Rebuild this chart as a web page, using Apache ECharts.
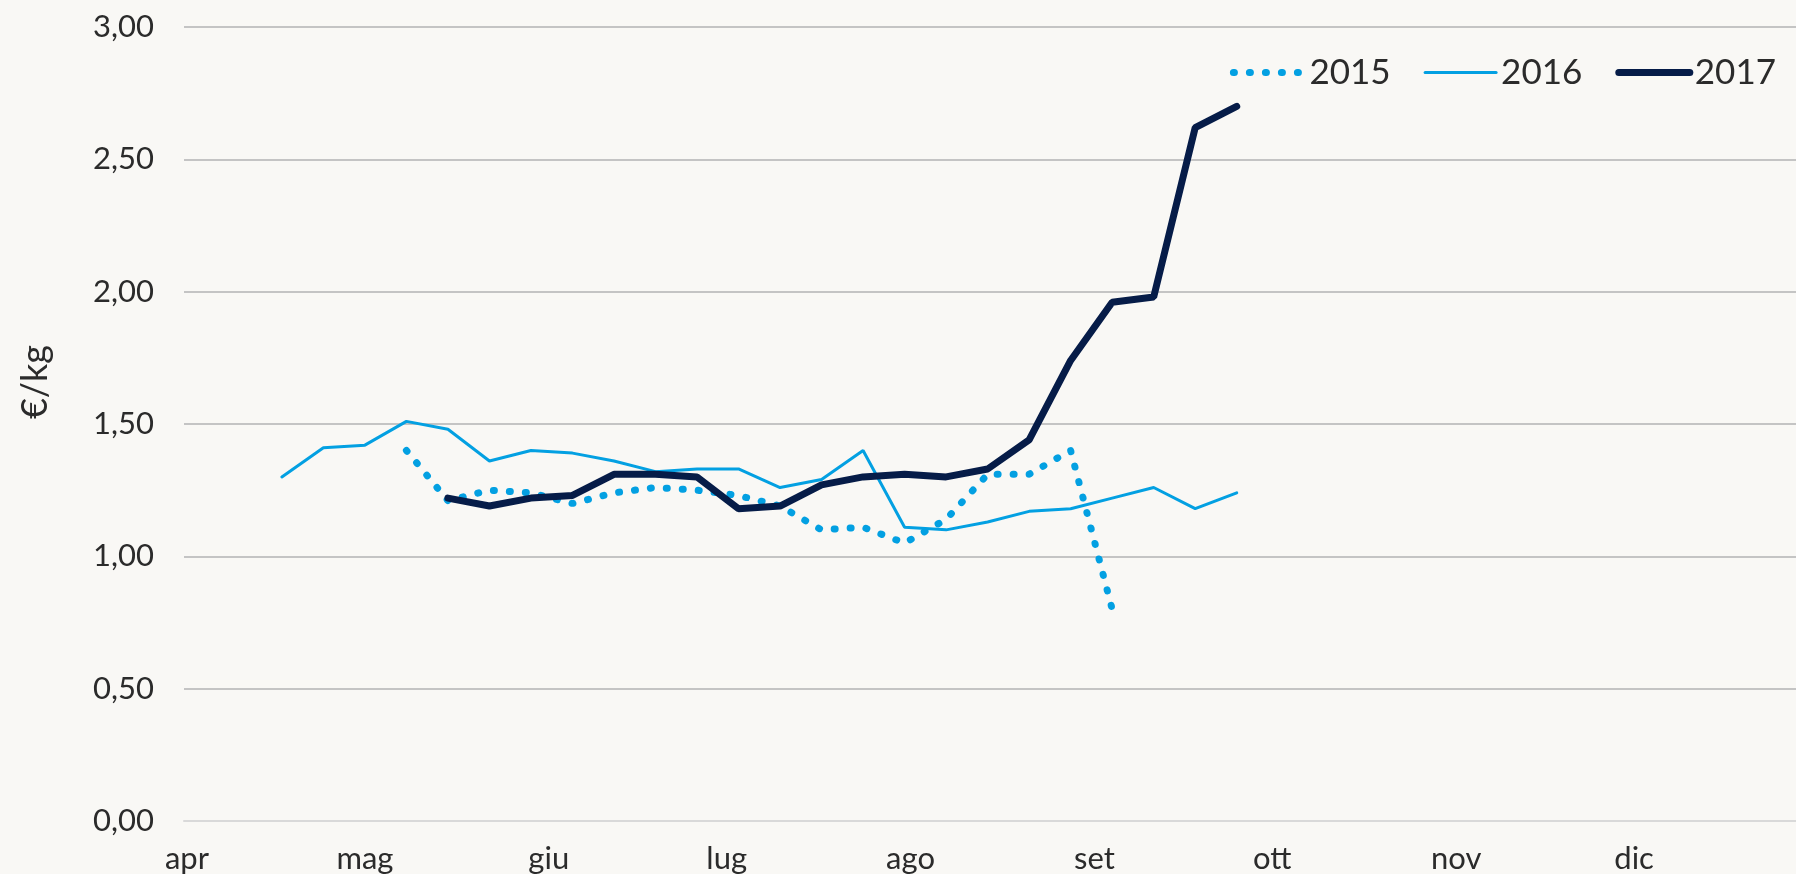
<!DOCTYPE html>
<html>
<head>
  <meta charset="utf-8">
  <title>€/kg 2015-2017</title>
  <script src="https://cdn.jsdelivr.net/npm/echarts@6/dist/echarts.min.js"></script>
  <style>
    html, body { margin: 0; padding: 0; background: #f9f8f5; }
    #main { width: 1796px; height: 874px; }
  </style>
</head>
<body>
<div id="main"></div>
<script type="text/javascript">
  // giorno dell'anno di ogni settimana rilevata
  var weekDays = [107, 114, 121, 128, 135, 142, 149, 156, 163, 170, 177, 184,
                  191, 198, 205, 212, 219, 226, 233, 240, 247, 254, 261, 268];
  var v2015 = [null, null, null, 1.40, 1.21, 1.25, 1.24, 1.20, 1.24, 1.26, 1.25, 1.23,
               1.19, 1.10, 1.11, 1.05, 1.14, 1.31, 1.31, 1.40, 0.80, null, null, null];
  var v2016 = [1.30, 1.41, 1.42, 1.51, 1.48, 1.36, 1.40, 1.39, 1.36, 1.32, 1.33, 1.33,
               1.26, 1.29, 1.40, 1.11, 1.10, 1.13, 1.17, 1.18, 1.22, 1.26, 1.18, 1.24];
  var v2017 = [null, null, null, null, 1.22, 1.19, 1.22, 1.23, 1.31, 1.31, 1.30, 1.18,
               1.19, 1.27, 1.30, 1.31, 1.30, 1.33, 1.44, 1.74, 1.96, 1.98, 2.62, 2.70];
  var monthDays = [91, 121, 152, 182, 213, 244, 274, 305, 335];
  var monthNames = ['apr', 'mag', 'giu', 'lug', 'ago', 'set', 'ott', 'nov', 'dic'];

  var lightBlue = '#03a0e2';
  var navy = '#061c48';
  var font = 'Lato, "Open Sans", sans-serif';

  function pairs(vals) {
    return weekDays.map(function (d, i) { return [d, vals[i]]; });
  }

  var myChart = echarts.init(document.getElementById('main'));
  var option = {
    backgroundColor: '#f9f8f5',
    animation: false,
    grid: { left: 184, right: 0, top: 27, bottom: 53 },
    legend: {
      right: 15,
      top: 50,
      itemWidth: 71,
      itemHeight: 10,
      itemGap: 33,
      textStyle: { fontFamily: font, fontSize: 35, color: '#2b2b2b' },
      data: [
        { name: '2015', itemStyle: { opacity: 0 },
          lineStyle: { width: 7, type: [1, 15], cap: 'round', color: lightBlue } },
        { name: '2016', itemStyle: { opacity: 0 },
          lineStyle: { width: 3, color: lightBlue, cap: 'round' } },
        { name: '2017', itemStyle: { opacity: 0 },
          lineStyle: { width: 7, color: navy, cap: 'round' } }
      ]
    },
    graphic: [{
      type: 'text',
      x: 35, y: 382,
      rotation: Math.PI / 2,
      style: {
        text: '€/kg', fontFamily: font, fontSize: 36, fill: '#2b2b2b',
        align: 'center', verticalAlign: 'middle'
      }
    }],
    xAxis: {
      type: 'value',
      min: 90.5,
      max: 362.3,
      splitLine: { show: false },
      axisTick: { show: false },
      axisLine: { show: true, lineStyle: { color: '#d9d9d9', width: 2 } },
      axisLabel: {
        customValues: monthDays,
        margin: 22,
        fontFamily: font,
        fontSize: 31,
        color: '#2b2b2b',
        formatter: function (v) { return monthNames[monthDays.indexOf(v)]; }
      }
    },
    yAxis: {
      type: 'value',
      min: 0,
      max: 3,
      interval: 0.5,
      axisLine: { show: false },
      axisTick: { show: false },
      splitLine: { lineStyle: { color: '#c4c4c4', width: 2 } },
      axisLabel: {
        margin: 30,
        fontFamily: font,
        fontSize: 31,
        color: '#2b2b2b',
        formatter: function (v) { return v.toFixed(2).replace('.', ','); }
      }
    },
    series: [
      {
        name: '2015', type: 'line', data: pairs(v2015), symbol: 'none',
        lineStyle: { color: lightBlue, width: 7, type: [1, 15], cap: 'round' },
        itemStyle: { color: lightBlue }
      },
      {
        name: '2016', type: 'line', data: pairs(v2016), symbol: 'none',
        lineStyle: { color: lightBlue, width: 3, cap: 'round' },
        itemStyle: { color: lightBlue }
      },
      {
        name: '2017', type: 'line', data: pairs(v2017), symbol: 'none',
        lineStyle: { color: navy, width: 7, cap: 'round' },
        itemStyle: { color: navy }
      }
    ]
  };
  myChart.setOption(option);
</script>
</body>
</html>
